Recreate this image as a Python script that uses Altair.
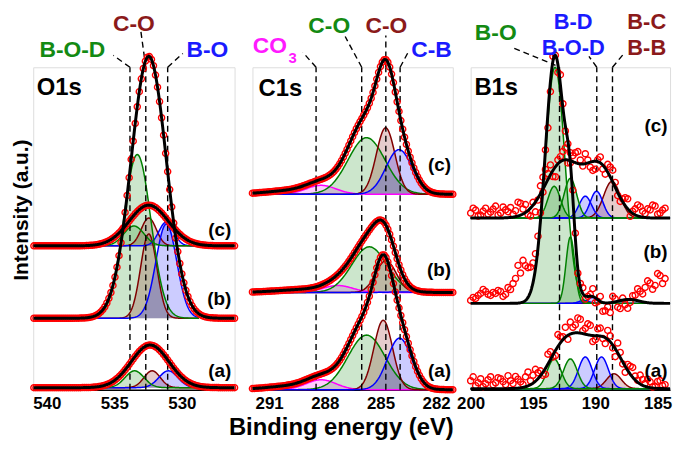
import altair as alt
import numpy as np
import pandas as pd

FONT = "Liberation Sans"
PANEL_H = 325  # intensity unit = one pixel above the bottom axis

PANELS = ["O1s", "C1s", "B1s"]
X_DOMAINS = {"O1s": [541.0, 526.1], "C1s": [291.9, 281.1], "B1s": [200.0, 184.0]}
X_TICKS = {"O1s": [540, 535, 530], "C1s": [291, 288, 285, 282], "B1s": [200, 195, 190, 185]}
PANEL_W = {"O1s": 203, "C1s": 202, "B1s": 201}
PANEL_SPACING = 18

COLOR_KEYS = ["g", "m", "b", "p"]
LINE_COLORS = ["#008000", "#800000", "#0000FF", "#FF00FF"]

# vertical offsets of the stacked spectra (a), (b), (c)
O1S_BASE = {"a": 2, "b": 72, "c": 145}
C1S_BASE = {"a": 0, "b": 98, "c": 197}
B1S_BASE = {"a": 1, "b": 87, "c": 173}

# fitted components: (spectrum, colour key, centre eV, height, sigma eV)
O1S_COMPONENTS = [
    ("a", "g", 533.5, 17, 0.70), ("a", "m", 532.2, 17, 0.60), ("a", "b", 531.0, 17, 0.70),
    ("b", "g", 533.3, 165, 1.00), ("b", "m", 532.45, 85, 0.60), ("b", "b", 531.15, 95, 0.77),
    ("c", "g", 533.55, 20, 0.75), ("c", "m", 532.45, 28, 0.55), ("c", "b", 531.15, 24, 0.55),
]
C1S_COMPONENTS = [
    ("a", "p", 288.2, 10, 0.8), ("a", "g", 285.75, 55, 1.0), ("a", "m", 284.85, 70, 0.5), ("a", "b", 283.97, 52, 0.65),
    ("b", "p", 287.3, 7, 0.8), ("b", "g", 285.6, 46, 0.95), ("b", "m", 284.7, 32, 0.55), ("b", "b", 284.0, 0.5, 0.6),
    ("c", "p", 288.2, 9, 0.8), ("c", "g", 285.75, 57, 1.0), ("c", "m", 284.72, 67, 0.5), ("c", "b", 284.0, 45, 0.7),
]
B1S_COMPONENTS = [
    ("a", "g", 193.3, 30, 0.55), ("a", "g", 192.0, 30, 0.55), ("a", "b", 190.8, 32, 0.55),
    ("a", "b", 189.5, 32, 0.55), ("a", "m", 188.5, 15, 0.6),
    ("b", "g", 193.23, 238, 0.8), ("b", "g", 192.0, 67, 0.35), ("b", "b", 190.9, 3, 0.4),
    ("b", "b", 190.2, 6, 0.4), ("b", "m", 187.3, 4, 0.8),
    ("c", "g", 193.3, 32, 0.5), ("c", "g", 192.0, 40, 0.5), ("c", "b", 190.8, 22, 0.5),
    ("c", "b", 189.9, 27, 0.5), ("c", "m", 188.66, 37, 0.67),
]

# fitted envelope (black line): (spectrum, centre eV, height, sigma eV)
O1S_ENVELOPE = [("a", 532.35, 43, 1.4), ("b", 532.45, 264, 1.3), ("c", 532.45, 41, 1.45)]
C1S_ENVELOPE = [("a", 285.8, 15, 0.9), ("a", 289.5, 4, 1.5), ("b", 285.3, 8, 0.8),
                ("b", 289.0, 3, 1.5), ("c", 285.8, 18, 0.9), ("c", 289.5, 4, 1.5)]
B1S_ENVELOPE = [("a", 192.3, 48, 1.3), ("a", 191.0, 8, 0.8), ("a", 189.2, 48, 1.3),
                ("b", 193.2, 12, 0.6), ("c", 192.6, 56, 1.4), ("c", 189.6, 50, 1.2)]
ENV_ADDS_COMPONENTS = {"O1s": [], "C1s": ["a", "b", "c"], "B1s": ["b"]}

FIT_RANGES = {"O1s": {"a": (528.4, 537.0), "b": (528.7, 536.6)}}
LINE_ORDER = {"O1s": ["m", "b", "g"], "C1s": ["p", "g", "m", "b"], "B1s": ["m", "b", "g"]}

POINT_STEP = {"O1s": 0.15, "C1s": 0.10}
POINT_MIN_E = {"O1s": 526.1, "C1s": 281.1, "B1s": 184.4}
# B1s measured points, every 0.2 eV from 200.0 down to 184.0: deviation from the fit
B1S_RESID = {
    "a": [8, 12, 3, 6, 10, 2, 5, 9, 12, 4, 6, 11, 10, 7, 4, 13, 8, 5, 12, 9,
          6, 3, 10, 14, 4, 8, 12, 6, 5, -3, -6, 10, 8, -2, -5, 12, 6, 3, 10, -4,
          12, 6, 8, 15, 14, 3, 6, 11, 10, -6, -4, 7, 8, -2, -6, 9, 6, -3, -8, 10,
          5, -2, -6, 6, 8, 10, 4, 2, 9, 6, 3, 8, 6, 1, 2, 7, 8, 3, 4, 9, 7],
    "b": [3, 6, 5, 8, 10, 14, 12, 9, 8, 11, 10, 13, 12, 7, 9, 16, 14, 20, 25, 38,
          30, 42, 35, 30, 25, 20, 15, 12, 8, -5, 0, -15, -10, 5, 0, -8, 10, 4, -5, -3,
          0, 8, 5, -4, 3, 6, -3, 0, 2, 8, -5, -2, 5, -9, -8, -4, -10, 6, 3, -6,
          -8, 2, -5, -9, -3, 4, 5, 12, 10, 8, 15, 22, 20, 14, 18, 30, 28, 20, 25, 35, 30],
    "c": [5, 10, 8, 2, 3, 7, 10, 4, 6, 9, 12, 3, 5, 11, 8, 6, 10, 3, 6, 14,
          12, 5, 8, -4, -8, 3, -10, -2, 8, 12, 15, 6, 10, -6, -10, 4, 5, 9, 12, -3,
          8, 6, 10, 12, 4, -2, 10, 3, -5, -9, -8, 2, 6, -4, -6, 8, 10, 12, 5, -3,
          -4, 3, 8, 10, -5, 2, 6, 11, 10, 6, 4, 9, 8, 13, 12, 4, 5, 8, 10, 3, 6],
}
B1S_POINT_START = 200.0
B1S_POINT_STEP = 0.2

# dashed reference lines (eV)
VLINES = {"O1s": [533.84, 532.67, 531.05],
          "C1s": [288.47, 286.01, 284.71, 283.94],
          "B1s": [192.87, 189.88, 188.62]}
# leader dashes above the frame: (E1, I1, E2, I2)
LEADERS = {
    "O1s": [(533.84, 325, 535.07, 337), (532.67, 325, 533.03, 361), (531.05, 325, 529.93, 339)],
    "C1s": [(288.47, 325, 289.18, 340), (286.01, 325, 286.9, 356), (284.71, 325, 284.71, 357),
            (283.94, 325, 283.51, 340)],
    "B1s": [(196.5, 344, 193.19, 327), (189.88, 325, 190.51, 336), (188.62, 325, 187.76, 338)],
}
# annotation labels: (E, I baseline, text, colour, font size)
LABELS = {
    "O1s": [(538.1, 335, "B-O-D", "#138A13", 23), (533.55, 362, "C-O", "#8B1A1A", 23),
            (528.11, 335.5, "B-O", "#1A1AFF", 23)],
    "C1s": [(290.96, 339, "CO", "#FF1AFF", 23), (289.73, 329, "3", "#FF1AFF", 15),
            (287.76, 360, "C-O", "#138A13", 23), (284.68, 360, "C-O", "#8B1A1A", 23),
            (282.25, 335.7, "C-B", "#1A1AFF", 23)],
    "B1s": [(197.99, 352.3, "B-O", "#138A13", 23), (191.77, 364, "B-D", "#1A1AFF", 22),
            (191.77, 337, "B-O-D", "#1A1AFF", 22), (185.87, 364, "B-C", "#8B1A1A", 22),
            (185.87, 337, "B-B", "#8B1A1A", 22)],
}
PANEL_NAMES = {"O1s": (540.74, 297.3), "C1s": (291.57, 296.3), "B1s": (199.7, 297.3)}
SPEC_LABELS = {
    "O1s": [(526.35, 161, "(c)"), (526.35, 91, "(b)"), (526.35, 19, "(a)")],
    "C1s": [(281.2, 226, "(c)"), (281.2, 121, "(b)"), (281.2, 19, "(a)")],
    "B1s": [(184.2, 266, "(c)"), (184.2, 139, "(b)"), (184.2, 19, "(a)")],
}
Y_TITLE = ("Intensity (a.u.)", 541.39, 181)
Y_TITLE_SIZE = 21
X_TITLE = ("Binding energy (eV)", 287.11, -46)

BASES = {"O1s": O1S_BASE, "C1s": C1S_BASE, "B1s": B1S_BASE}
COMPONENTS = {"O1s": O1S_COMPONENTS, "C1s": C1S_COMPONENTS, "B1s": B1S_COMPONENTS}
ENVELOPES = {"O1s": O1S_ENVELOPE, "C1s": C1S_ENVELOPE, "B1s": B1S_ENVELOPE}


def gauss(e, c, h, s):
    return h * np.exp(-0.5 * ((e - c) / s) ** 2)


def envelope(panel, spec, e):
    tot = np.zeros_like(e)
    for sp, c, h, s in ENVELOPES[panel]:
        if sp == spec:
            tot = tot + gauss(e, c, h, s)
    if spec in ENV_ADDS_COMPONENTS[panel]:
        for sp, k, c, h, s in COMPONENTS[panel]:
            if sp == spec:
                tot = tot + gauss(e, c, h, s)
    return tot


color_scale = alt.Scale(domain=COLOR_KEYS, range=LINE_COLORS)
yscale = alt.Scale(domain=[0, PANEL_H], nice=False, zero=False)


def build_panel(panel):
    lo, hi = min(X_DOMAINS[panel]), max(X_DOMAINS[panel])
    base = BASES[panel]
    xscale = alt.Scale(domain=X_DOMAINS[panel], nice=False, zero=False)
    xaxis = alt.Axis(values=X_TICKS[panel], title=None, grid=False, ticks=False,
                     labelFontSize=17, labelFont=FONT, labelFontWeight="bold",
                     labelColor="black", domainColor="black", domainWidth=1.5,
                     labelPadding=6, labelFlush=False, labelOverlap=False, format="d")

    def X(f):
        return alt.X(f, type="quantitative", scale=xscale, axis=xaxis)

    def Y(f):
        return alt.Y(f, type="quantitative", scale=yscale, axis=None)

    grid = np.arange(lo, hi + 1e-6, 0.04)
    rows = []
    for idx, (sp, k, c, h, s) in enumerate(COMPONENTS[panel]):
        r0, r1 = FIT_RANGES.get(panel, {}).get(sp, (lo, hi))
        e = grid[(grid >= r0) & (grid <= r1)]
        for ev, v in zip(e, gauss(e, c, h, s)):
            rows.append({"E": ev, "y": base[sp] + v, "y0": base[sp], "k": k, "cid": f"{sp}{idx}"})
    comp = pd.DataFrame(rows)

    erows = []
    for sp in ["a", "b", "c"]:
        for ev, v in zip(grid, envelope(panel, sp, grid)):
            erows.append({"E": ev, "y": base[sp] + v, "sp": sp})
    env = pd.DataFrame(erows)

    prow = []
    for sp in ["a", "b", "c"]:
        if panel == "B1s":
            pe = np.array([B1S_POINT_START - B1S_POINT_STEP * i for i in range(len(B1S_RESID[sp]))])
            pv = envelope(panel, sp, pe) + np.array(B1S_RESID[sp])
        else:
            pe = np.arange(lo, hi + 1e-6, POINT_STEP[panel])
            pv = envelope(panel, sp, pe)
        for ev, v in zip(pe, pv):
            if POINT_MIN_E[panel] - 1e-6 <= ev <= hi + 1e-6:
                prow.append({"E": ev, "y": base[sp] + v})
    pts = pd.DataFrame(prow)

    layers = []
    layers.append(alt.Chart(comp).mark_area(fillOpacity=0.2, strokeWidth=0).encode(
        x=X("E"), y=Y("y"), y2=alt.Y2("y0"),
        color=alt.Color("k:N", scale=color_scale, legend=None), detail="cid:N"))
    for k in LINE_ORDER[panel]:
        sub = comp[comp["k"] == k]
        if len(sub):
            layers.append(alt.Chart(sub).mark_line(strokeWidth=1.5,
                                                   color=LINE_COLORS[COLOR_KEYS.index(k)]).encode(
                x=X("E"), y=Y("y"), detail="cid:N"))
    vl = pd.DataFrame({"E": VLINES[panel], "y0": 0, "y1": PANEL_H})
    layers.append(alt.Chart(vl).mark_rule(strokeDash=[6, 4], color="black", strokeWidth=1.4).encode(
        x=X("E"), y=Y("y0"), y2=alt.Y2("y1")))
    ld = pd.DataFrame(LEADERS[panel], columns=["E1", "I1", "E2", "I2"])
    layers.append(alt.Chart(ld).mark_rule(strokeDash=[6, 4], color="black", strokeWidth=1.4).encode(
        x=X("E1"), x2=alt.X2("E2"), y=Y("I1"), y2=alt.Y2("I2")))
    layers.append(alt.Chart(pts).mark_point(shape="circle", filled=False, color="#FF0000",
                                            size=38, strokeWidth=1.4, opacity=1).encode(
        x=X("E"), y=Y("y")))
    layers.append(alt.Chart(env).mark_line(color="black", strokeWidth=3).encode(
        x=X("E"), y=Y("y"), detail="sp:N"))

    lab = pd.DataFrame(LABELS[panel], columns=["E", "I", "t", "col", "fs"])
    layers.append(alt.Chart(lab).mark_text(font=FONT, fontWeight="bold", align="center",
                                           baseline="alphabetic").encode(
        x=X("E"), y=Y("I"), text="t:N", color=alt.Color("col:N", scale=None),
        size=alt.Size("fs:Q", scale=None)))
    pn = pd.DataFrame([{"E": PANEL_NAMES[panel][0], "I": PANEL_NAMES[panel][1], "t": panel}])
    layers.append(alt.Chart(pn).mark_text(font=FONT, fontWeight="bold", fontSize=24, align="left",
                                          baseline="alphabetic", color="black").encode(
        x=X("E"), y=Y("I"), text="t:N"))
    sl = pd.DataFrame(SPEC_LABELS[panel], columns=["E", "I", "t"])
    layers.append(alt.Chart(sl).mark_text(font=FONT, fontWeight="bold", fontSize=19, align="right",
                                          baseline="middle", color="black").encode(
        x=X("E"), y=Y("I"), text="t:N"))
    if panel == "O1s":
        yt = pd.DataFrame([{"t": Y_TITLE[0], "E": Y_TITLE[1], "I": Y_TITLE[2]}])
        layers.append(alt.Chart(yt).mark_text(font=FONT, fontWeight="bold", fontSize=Y_TITLE_SIZE,
                                              angle=270, align="center", baseline="alphabetic",
                                              color="black").encode(
            x=X("E"), y=Y("I"), text="t:N"))
    if panel == "C1s":
        xt = pd.DataFrame([{"t": X_TITLE[0], "E": X_TITLE[1], "I": X_TITLE[2]}])
        layers.append(alt.Chart(xt).mark_text(font=FONT, fontWeight="bold", fontSize=24,
                                              align="center", baseline="alphabetic",
                                              color="black").encode(
            x=X("E"), y=Y("I"), text="t:N"))
    return alt.layer(*layers).properties(width=PANEL_W[panel], height=PANEL_H)


chart = alt.hconcat(*[build_panel(p) for p in PANELS], spacing=PANEL_SPACING,
                    bounds="flush").properties(
    padding={"left": 2.4, "top": 0, "right": 0, "bottom": 0}
).configure_view(stroke="black", strokeWidth=1.5).configure(font=FONT)

chart.save("out.html", embed_options={"renderer": "svg", "actions": False})
